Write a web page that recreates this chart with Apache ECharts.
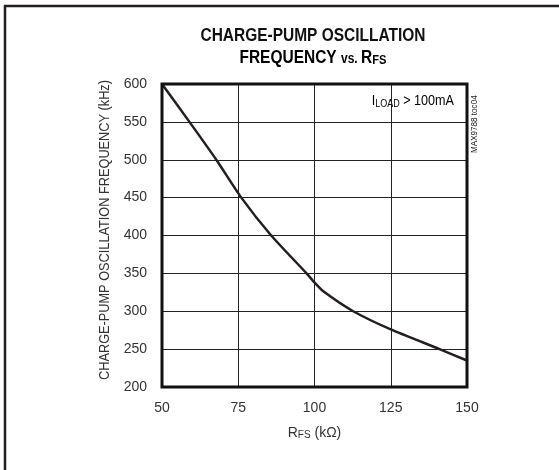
<!DOCTYPE html>
<html><head><meta charset="utf-8">
<script src="https://cdn.jsdelivr.net/npm/echarts@6/dist/echarts.min.js"></script>
<style>html,body{margin:0;padding:0;background:#fff}#c{width:559px;height:470px}</style>
</head><body><div id="c"></div>
<script>
const rfs = [50, 59, 67.8, 76, 85.8, 97.4, 100, 103, 112.7, 125, 141, 150];
const freq = [600, 550, 500, 450, 400, 350, 338, 326, 300, 276, 250, 235];
const xTicks = [50, 75, 100, 125, 150];
const yTicks = [200, 250, 300, 350, 400, 450, 500, 550, 600];

const FONT = "'Liberation Sans',Arial,sans-serif";
const chart = echarts.init(document.getElementById('c'));
chart.setOption({
  animation: false,
  backgroundColor: '#fff',
  grid: { left: 162, top: 84, right: 92, bottom: 83, show: true, borderColor: '#111', borderWidth: 3, z: 5 },
  xAxis: {
    type: 'value', min: xTicks[0], max: xTicks[xTicks.length - 1], interval: 25,
    name: '{r|R}{s|FS}{r| (kΩ)}', nameLocation: 'middle', nameGap: 39,
    nameTextStyle: { rich: { r: { fontFamily: FONT, fontSize: 14, color: '#333' }, s: { fontFamily: FONT, fontSize: 10, color: '#333', padding: [4,0,0,0] } } },
    axisLine: { show: false }, axisTick: { show: false },
    axisLabel: { fontFamily: FONT, fontSize: 14, color: '#333', margin: 14 },
    splitLine: { show: true, lineStyle: { color: '#222', width: 1 } }
  },
  yAxis: {
    type: 'value', min: yTicks[0], max: yTicks[yTicks.length - 1], interval: 50,
    axisLine: { show: false }, axisTick: { show: false },
    axisLabel: { fontFamily: FONT, fontSize: 14, color: '#333', margin: 15 },
    splitLine: { show: true, lineStyle: { color: '#222', width: 1 } }
  },
  series: [{
    type: 'line', data: rfs.map((x, i) => [x, freq[i]]), smooth: 0.2, symbol: 'none',
    lineStyle: { color: '#231f20', width: 2.5 }, z: 3
  }],
  graphic: [
    { type: 'rect', shape: { x: 5, y: 6, width: 600, height: 500 }, style: { fill: 'none', stroke: '#231f20', lineWidth: 2.5 }, z: 0 },
    { type: 'text', x: 313, y: 27, scaleX: 0.86, style: { text: 'CHARGE-PUMP OSCILLATION', textAlign: 'center', font: "bold 18px " + FONT, fill: '#111' } },
    { type: 'text', x: 313, y: 49, scaleX: 0.86, style: { text: '{b|FREQUENCY }{m|vs. }{b|R}{s|FS}', textAlign: 'center', rich: {
        b: { fontFamily: FONT, fontWeight: 'bold', fontSize: 18, color: '#111' },
        m: { fontFamily: FONT, fontWeight: 'bold', fontSize: 14, color: '#111', padding: [2,0,0,0] },
        s: { fontFamily: FONT, fontWeight: 'bold', fontSize: 13, color: '#111', padding: [5,0,0,0] } } } },
    { type: 'text', x: 105, y: 230, rotation: Math.PI / 2, scaleX: 0.91, style: { text: 'CHARGE-PUMP OSCILLATION FREQUENCY (kHz)', textAlign: 'center', textVerticalAlign: 'middle', font: "14px " + FONT, fill: '#333' } },
    { type: 'text', x: 454, y: 94, scaleX: 0.9, style: { text: '{r|I}{s|LOAD}{r| > 100mA}', textAlign: 'right', rich: {
        r: { fontFamily: FONT, fontSize: 14, color: '#222' },
        s: { fontFamily: FONT, fontSize: 10, color: '#222', padding: [5,0,0,0] } } } },
    { type: 'text', x: 470, y: 153, rotation: Math.PI / 2, scaleX: 0.9, style: { text: 'MAX9788 toc04', font: "9px " + FONT, fill: '#222' } }
  ]
});
</script></body></html>
